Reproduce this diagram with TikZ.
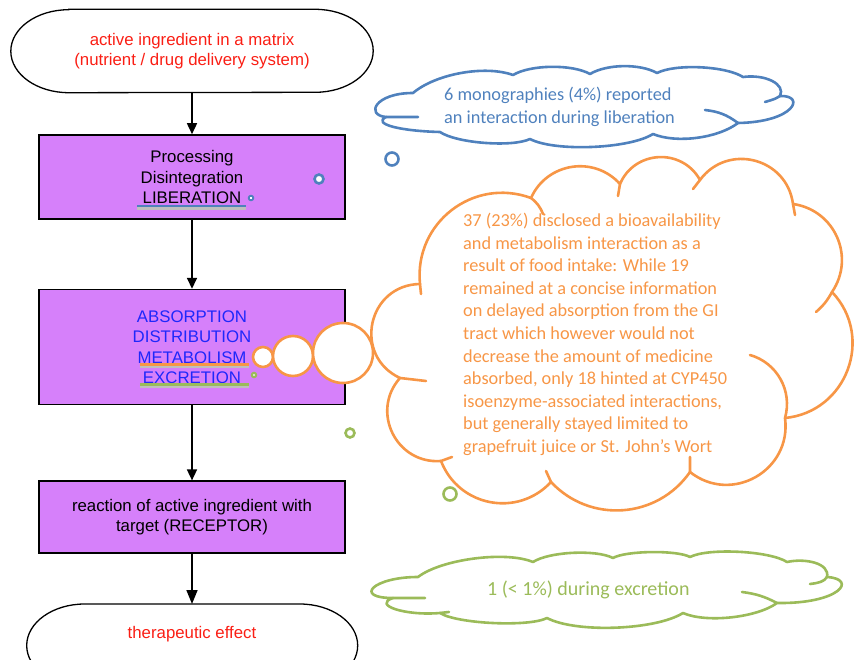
\documentclass[tikz,border=0pt]{standalone}
\usepackage{fontspec}
\setmainfont{Liberation Sans}
\newfontfamily\notefamily{Carlito}
\usetikzlibrary{arrows.meta, positioning, calc}
\definecolor{stagepurple}{RGB}{214, 128, 250}
\definecolor{termred}{RGB}{250, 30, 20}
\definecolor{admeblue}{RGB}{30, 40, 250}
\definecolor{libblue}{RGB}{79, 129, 189}
\definecolor{metaorange}{RGB}{247, 150, 70}
\definecolor{excgreen}{RGB}{155, 187, 89}

\begin{document}
\begin{tikzpicture}[
  x=1pt, y=-1pt,
  term/.style={rectangle, inner sep=0pt, minimum width=331pt, align=center,
               text=termred, font=\fontsize{16.8}{20}\selectfont},
  stage/.style={rectangle, draw=black, line width=1.6pt, fill=stagepurple,
                minimum width=306pt, inner sep=0pt, align=center,
                font=\fontsize{16.8}{20.5}\selectfont},
  termline/.style={draw=black, line width=1.3pt},
  arr/.style={-{Triangle[length=11pt, width=10pt]}, line width=1.6pt},
  cloudline/.style={line width=2.6pt, line join=round, line cap=round},
  bubble/.style={line width=2.6pt, fill=white},
  puff/.style 2 args={bend left=#1, looseness=#2},
  notetext/.style={inner sep=0pt, align=left, font=\notefamily\fontsize{18.3}{22.6}\selectfont}
]
  \useasboundingbox (0,0) rectangle (855,660);
  \clip (0,0) rectangle (855,660);

  % flow chain
  \node[term, minimum width=362pt, minimum height=83pt] (source) at (192,51)
    {active ingredient in a matrix\\(nutrient / drug delivery system)};
  \node[stage, minimum height=84pt, below=41.5pt of source] (liberation)
    {Processing\\Disintegration\\LIBERATION};
  \node[stage, minimum height=115pt, below=69pt of liberation, text=admeblue] (adme)
    {ABSORPTION\\DISTRIBUTION\\METABOLISM\\EXCRETION};
  \node[stage, minimum height=72pt, below=75pt of adme] (receptor)
    {reaction of active ingredient with\\target (RECEPTOR)};
  \node[term, minimum height=60pt, below=50pt of receptor] (effect) {therapeutic effect};

  \draw[termline] ($(source.north west)+(58,0)$) -- ($(source.north east)+(-58,0)$)
    arc[start angle=-90, end angle=90, x radius=58, y radius=41.5]
    -- ($(source.south west)+(58,0)$)
    arc[start angle=90, end angle=270, x radius=58, y radius=41.5] -- cycle;
  \draw[termline] ($(effect.north west)+(58,0)$) -- ($(effect.north east)+(-58,0)$)
    arc[start angle=-90, end angle=90, x radius=58, y radius=41.5]
    -- ++(-215,0)
    arc[start angle=90, end angle=270, x radius=58, y radius=41.5] -- cycle;

  \draw[arr] (source) -- (liberation);
  \draw[arr] (liberation) -- (adme);
  \draw[arr] (adme) -- (receptor);
  \draw[arr, -{Triangle[length=14pt, width=11pt]}] (receptor) -- (effect);

  % underlines
  \draw[line width=2.5pt, black!25] (137,208.5) -- (246,208.5);
  \draw[line width=2.5pt, libblue] (137,206) -- (246,206);
  \draw[line width=2.5pt, black!25] (140,366.5) -- (249,366.5);
  \draw[line width=2.5pt, metaorange] (140,364.5) -- (249,364.5);
  \draw[line width=2.5pt, black!25] (140,386.5) -- (249,386.5);
  \draw[line width=2.5pt, excgreen] (140,384.5) -- (249,384.5);

  % clouds
  \draw[cloudline, libblue] (413,93) to[puff={30}{0.75}] (513,75) to[puff={30}{0.68}] (590,74)
    to[puff={30}{0.75}] (657,73) to[puff={30}{0.61}] (743,77)
    .. controls (765,74) and (786,84) .. (780,96)
    .. controls (806,95) and (795,122) .. (738,123)
    to[puff={30}{0.75}] (653,134) to[puff={30}{0.58}] (530,139) to[puff={30}{0.56}] (440,132)
    .. controls (400,131) and (372,124) .. (386,117)
    .. controls (365,115) and (375,93) .. (413,93) -- cycle;
  \draw[cloudline, libblue] (780,96) .. controls (775,99) .. (765,102)
    (705,110) to[bend left=15] (738,123) (386,117) -- (418,117);

  \draw[cloudline, metaorange] (420,284) to[puff={58}{1.12}] (531,198) to[puff={57}{1.1}] (620,184)
    to[puff={64}{1.18}] (700,180) to[puff={68}{1.24}] (793,204) to[puff={58}{1.12}] (832,292)
    to[puff={64}{1.18}] (785,418) to[puff={68}{1.24}] (690,472) to[puff={51}{1.05}] (551,482)
    to[puff={58}{1.12}] (441,461) to[puff={68}{1.24}] (400,378) to[puff={77}{1.4}] (420,284) -- cycle;
  \draw[cloudline, metaorange] (531,198) to[bend left=15] (543,214) (620,184) -- (618,196)
    (700,180) -- (693,189) (793,204) -- (795,215) (832,292) to[bend left=10] (816,312)
    (750,355) to[bend left=45] (785,418) (690,472) -- (690,457) (551,482) -- (546,471)
    (441,461) -- (452,457) (400,378) -- (426,381) (420,284) -- (421,294);

  \draw[cloudline, excgreen] (418,577) to[puff={30}{0.65}] (533,562) to[puff={30}{0.61}] (613,558)
    to[puff={30}{0.48}] (690,557) to[puff={30}{0.54}] (787,562)
    .. controls (805,558) and (830,563) .. (827,577)
    .. controls (858,579) and (840,604) .. (777,603)
    to[puff={30}{0.68}] (683,613) to[puff={30}{0.61}] (547,618) to[puff={30}{0.48}] (440,613)
    .. controls (405,616) and (372,605) .. (393,598)
    .. controls (353,598) and (373,577) .. (418,577) -- cycle;
  \draw[cloudline, excgreen] (827,577) .. controls (824,582) and (818,583) .. (810,584)
    (742,592) to[bend left=10] (777,603) (393,598) -- (425,598) (440,613) -- (449,612);

  % thought bubbles
  \draw[bubble, draw=libblue] (392,159) circle[radius=6.5];
  \draw[bubble, draw=libblue] (319,179) circle[radius=4.5];
  \draw[draw=libblue, line width=1.8pt, fill=white] (251,198) circle[radius=2.3];
  \draw[bubble, draw=metaorange] (263,357) circle[radius=10];
  \draw[bubble, draw=metaorange] (293,356) circle[radius=20];
  \draw[bubble, draw=metaorange] (343,353) circle[radius=30];
  \draw[bubble, draw=excgreen] (450,494) circle[radius=6.5];
  \draw[bubble, draw=excgreen] (350,433) circle[radius=4.5];
  \draw[draw=excgreen, line width=1.8pt, fill=excgreen!40] (254,375) circle[radius=2.3];

  % notes
  \node[notetext, text=libblue, anchor=north west] (libnote) at (444,87)
    {6 monographies (4\%) reported\\an interaction during liberation};
  \node[notetext, text=metaorange, anchor=north west] (metanote) at (463,213)
    {37 (23\%) disclosed a bioavailability\\and metabolism interaction as a\\result of food intake: While 19\\remained at a concise information\\on delayed absorption from the GI\\tract which however would not\\decrease the amount of medicine\\absorbed, only 18 hinted at CYP450\\isoenzyme-associated interactions,\\but generally stayed limited to\\grapefruit juice or St. John’s Wort};
  \node[notetext, text=excgreen, anchor=base west, font=\notefamily\fontsize{20}{24}\selectfont] (excnote) at (487,595)
    {1 (< 1\%) during excretion};
\end{tikzpicture}
\end{document}
